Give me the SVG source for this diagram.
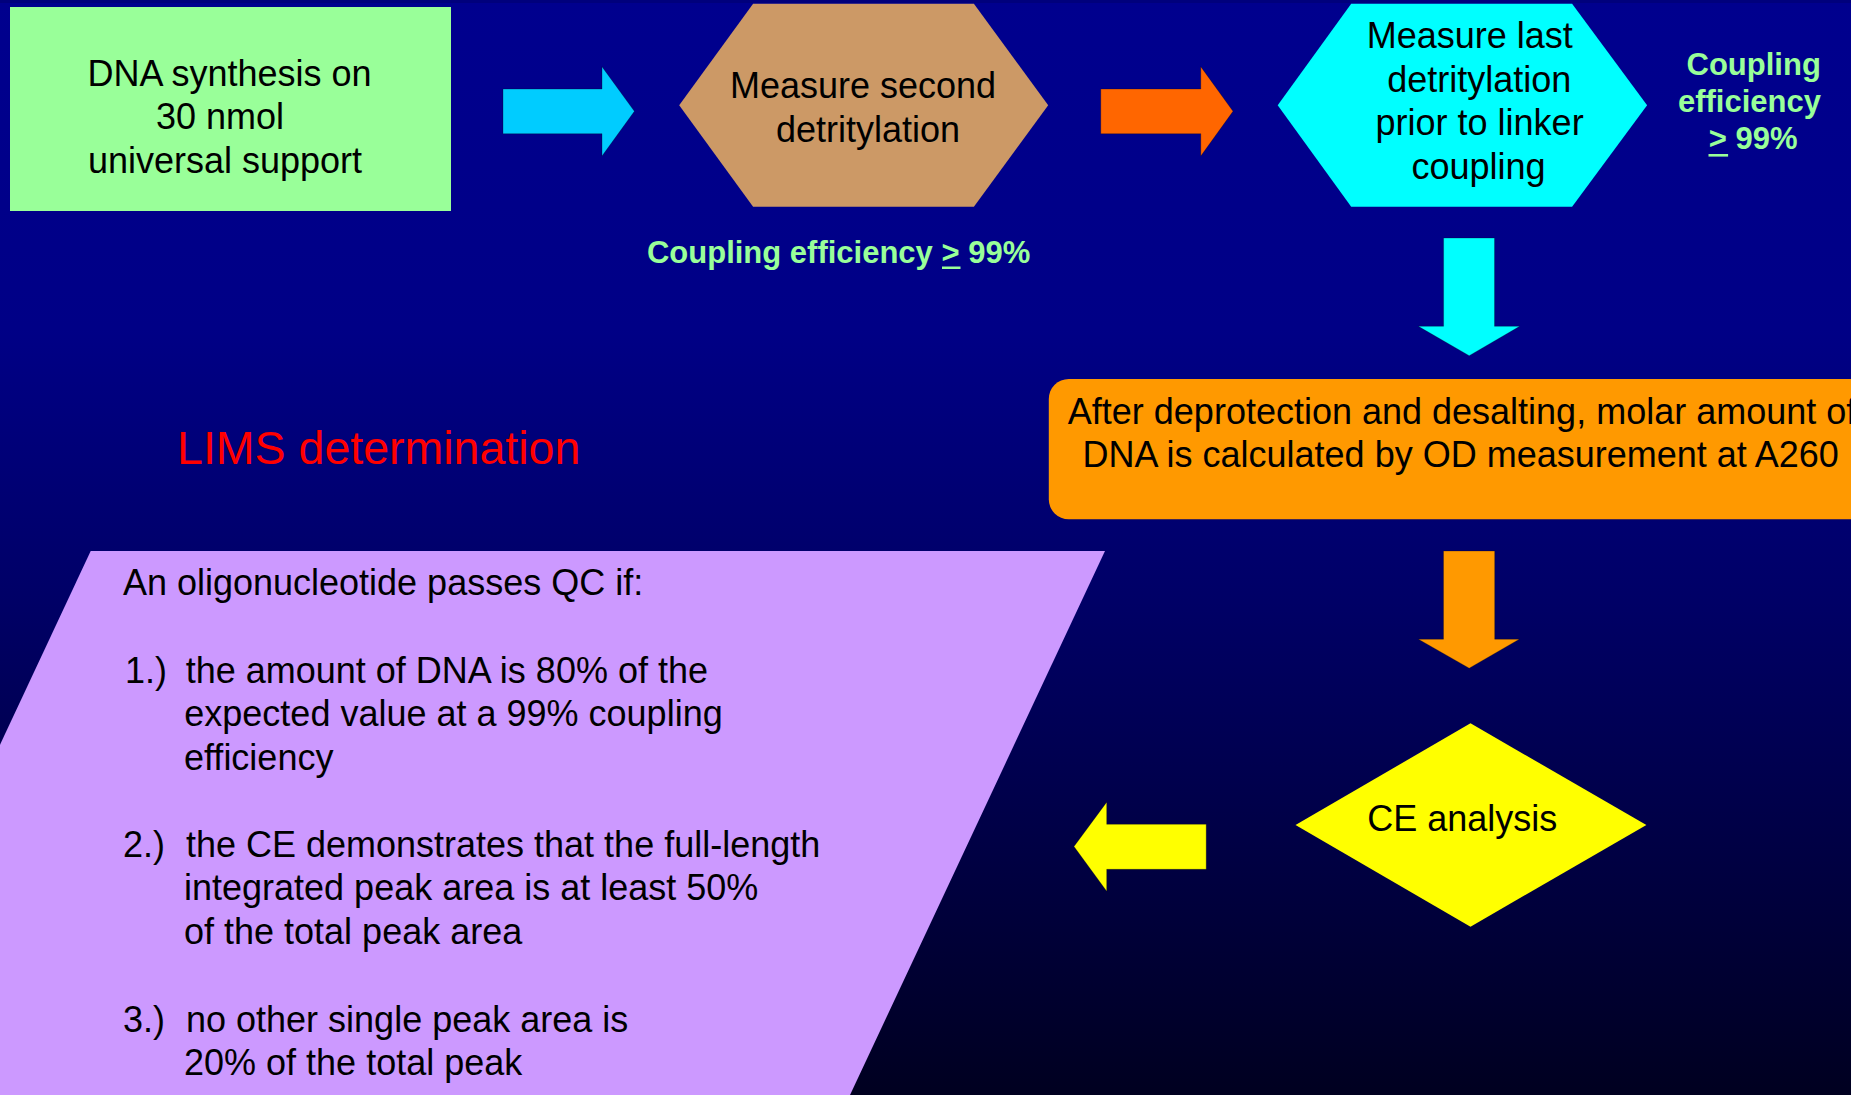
<svg xmlns="http://www.w3.org/2000/svg" width="1851" height="1095" viewBox="0 0 1851 1095">
<defs>
<linearGradient id="bg" x1="0" y1="0" x2="0" y2="1">
<stop offset="0" stop-color="#00008E"/>
<stop offset="0.3" stop-color="#000086"/>
<stop offset="0.55" stop-color="#000066"/>
<stop offset="0.8" stop-color="#000040"/>
<stop offset="1" stop-color="#000020"/>
</linearGradient>
<style>
.t{font-family:"Liberation Sans",Arial,sans-serif;font-size:36px;fill:#000}
.g{font-family:"Liberation Sans",Arial,sans-serif;font-size:31px;font-weight:bold;fill:#99FF99}
.m{text-anchor:middle}
.arr{stroke:#000;stroke-opacity:0.25;stroke-width:1}
</style>
</defs>
<rect x="0" y="0" width="1851" height="1095" fill="url(#bg)"/>
<rect x="0" y="0" width="1851" height="3" fill="#00007C"/>

<g id="connectors">
<polygon class="arr" fill="#00CCFF" points="503,89 602,89 602,66.7 634.4,111.3 602,156 602,133.7 503,133.7"/>
<polygon class="arr" fill="#FF6600" points="1100.8,89 1200.8,89 1200.8,66.7 1233,111.3 1200.8,156 1200.8,133.7 1100.8,133.7"/>
<polygon class="arr" fill="#00FFFF" points="1443.6,238 1494.5,238 1494.5,326.3 1519.7,326.3 1469.2,355.7 1418.3,326.3 1443.6,326.3"/>
<polygon class="arr" fill="#FF9900" points="1443.5,551 1494.7,551 1494.7,639.2 1519.3,639.2 1469.2,668.2 1418.4,639.2 1443.5,639.2"/>
<polygon class="arr" fill="#FFFF00" points="1206.2,824.3 1106.7,824.3 1106.7,802.2 1074,846.5 1106.7,891.2 1106.7,869.3 1206.2,869.3"/>
</g>

<g id="synthesis">
<rect x="10" y="7" width="441" height="204" fill="#99FF99"/>
<text class="t m" x="229.5" y="86">DNA synthesis on</text>
<text class="t m" x="220" y="129">30 nmol</text>
<text class="t m" x="225" y="173">universal support</text>
</g>

<g id="second-detritylation">
<polygon fill="#CC9966" points="679.2,105.3 753.1,3.7 973.9,3.7 1048.2,105.3 973.9,206.7 753.1,206.7"/>
<text class="t m" x="863" y="97.7">Measure second</text>
<text class="t m" x="868" y="141.7">detritylation</text>
</g>

<g id="coupling-1">
<text class="g m" x="838.6" y="263">Coupling efficiency &gt; 99%</text>
<rect x="942" y="266.5" width="18.5" height="2.5" fill="#99FF99"/>
</g>

<g id="last-detritylation">
<polygon fill="#00FFFF" points="1277.7,105.3 1351.2,3.7 1572.1,3.7 1647.1,105.3 1572.1,206.7 1351.2,206.7"/>
<text class="t m" x="1469.8" y="47.7">Measure last</text>
<text class="t m" x="1479.3" y="91.7">detritylation</text>
<text class="t m" x="1479.6" y="135.2">prior to linker</text>
<text class="t m" x="1478.6" y="178.5">coupling</text>
</g>

<g id="coupling-2">
<text class="g m" x="1753.7" y="75">Coupling</text>
<text class="g m" x="1749.5" y="111.7">efficiency</text>
<text class="g m" x="1753.2" y="149.3">&gt; 99%</text>
<rect x="1708.5" y="154" width="19.6" height="2.6" fill="#99FF99"/>
</g>

<g id="od-measurement">
<rect x="1048.8" y="379" width="900" height="140.3" rx="20" ry="20" fill="#FF9900"/>
<text class="t" x="1067.8" y="424.3">After deprotection and desalting, molar amount of</text>
<text class="t" x="1082.5" y="466.7">DNA is calculated by OD measurement at A260</text>
</g>

<g id="lims">
<text x="177.1" y="464.3" font-family="Liberation Sans, Arial, sans-serif" font-size="46.5" fill="#FF0000">LIMS determination</text>
</g>

<g id="ce-analysis">
<polygon fill="#FFFF00" points="1470.5,723.3 1646.4,825 1470.5,926.7 1295.5,825"/>
<text class="t m" x="1462.3" y="831">CE analysis</text>
</g>

<g id="qc-criteria">
<polygon fill="#CC99FF" points="90.7,551 1105,551 850,1095 -164,1095"/>
<text class="t" x="122.9" y="595">An oligonucleotide passes QC if:</text>
<text class="t" x="125" y="682.7">1.)</text>
<text class="t" x="185.7" y="682.7">the amount of DNA is 80% of the</text>
<text class="t" x="184.3" y="726.4">expected value at a 99% coupling</text>
<text class="t" x="184" y="770">efficiency</text>
<text class="t" x="123" y="856.7">2.)</text>
<text class="t" x="185.9" y="856.7">the CE demonstrates that the full-length</text>
<text class="t" x="184" y="900.3">integrated peak area is at least 50%</text>
<text class="t" x="184" y="944">of the total peak area</text>
<text class="t" x="123" y="1031.7">3.)</text>
<text class="t" x="186" y="1031.7">no other single peak area is</text>
<text class="t" x="184" y="1075.3">20% of the total peak</text>
</g>
</svg>
